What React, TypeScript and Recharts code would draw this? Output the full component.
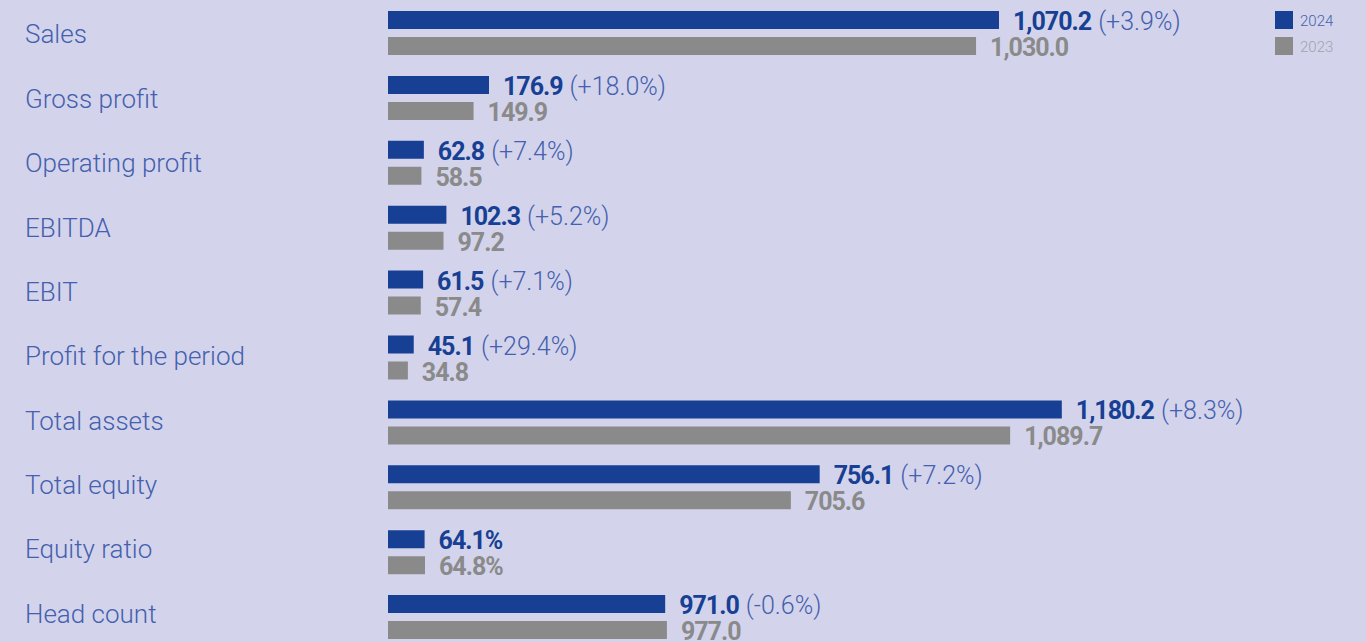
import { Bar, BarChart, LabelList, Legend, XAxis, YAxis } from 'recharts';

const categories = [
  'Sales',
  'Gross profit',
  'Operating profit',
  'EBITDA',
  'EBIT',
  'Profit for the period',
  'Total assets',
  'Total equity',
  'Equity ratio',
  'Head count',
];
const values2024 = [1070.2, 176.9, 62.8, 102.3, 61.5, 45.1, 1180.2, 756.1, 64.1, 971.0];
const values2023 = [1030.0, 149.9, 58.5, 97.2, 57.4, 34.8, 1089.7, 705.6, 64.8, 977.0];
const changes = ['+3.9%', '+18.0%', '+7.4%', '+5.2%', '+7.1%', '+29.4%', '+8.3%', '+7.2%', '', '-0.6%'];
const units = ['', '', '', '', '', '', '', '', '%', ''];
// head count is drawn at half scale in the original
const plotFactor = [1, 1, 1, 1, 1, 1, 1, 1, 1, 0.5];
const years = ['2024', '2023'];

const BLUE = '#173f94';
const BLUE_TEXT = '#4460ae';
const GRAY = '#8a8a8a';
const BG = '#d3d4eb';

const data = categories.map((name, i) => ({
  name,
  i,
  v2024: values2024[i] * plotFactor[i],
  v2023: values2023[i] * plotFactor[i],
}));

const fmt = (v: number) =>
  v.toLocaleString('en-US', { minimumFractionDigits: 1, maximumFractionDigits: 1 });

const VALUE_FONT = 'Roboto, "Liberation Sans", sans-serif';
const TEXT_FONT = 'Roboto, "Liberation Sans", sans-serif';

function CategoryTick({ y, payload, index }: any) {
  // row labels sit on a slightly tighter pitch than the bars
  const shift = 10 - 0.55 * (index ?? 0);
  return (
    <text x={25} y={y + shift} fill={BLUE_TEXT} fontFamily={TEXT_FONT} fontWeight={300} fontSize={26}>
      {payload.value}
    </text>
  );
}

function label2024(props: any) {
  const { x, y, width, height, value } = props;
  const i = value as number;
  return (
    <text x={x + width + 14} y={y + height / 2 + 10} fontSize={25}>
      <tspan fontFamily={VALUE_FONT} fontWeight={700} fill={BLUE} letterSpacing={-1}>
        {fmt(values2024[i]) + units[i]}
      </tspan>
      {changes[i] && (
        <tspan fontFamily={TEXT_FONT} fontWeight={300} fill={BLUE_TEXT} dx={7}>
          ({changes[i]})
        </tspan>
      )}
    </text>
  );
}

function label2023(props: any) {
  const { x, y, width, height, value } = props;
  const i = value as number;
  return (
    <text
      x={x + width + 14}
      y={y + height / 2 + 10}
      fontSize={25}
      fontFamily={VALUE_FONT}
      fontWeight={700}
      letterSpacing={-1}
      fill={GRAY}
    >
      {fmt(values2023[i]) + units[i]}
    </text>
  );
}

function YearLegend() {
  const colors = [BLUE, GRAY];
  const textColors = [BLUE_TEXT, '#a2a2ad'];
  return (
    <div>
      {years.map((y, k) => (
        <div key={y} style={{ display: 'flex', alignItems: 'center', height: 18, marginBottom: 8 }}>
          <span style={{ width: 18, height: 18, background: colors[k], display: 'inline-block' }} />
          <span
            style={{
              marginLeft: 7,
              fontFamily: TEXT_FONT,
              fontWeight: 300,
              fontSize: 15,
              color: textColors[k],
              paddingTop: 2,
            }}
          >
            {y}
          </span>
        </div>
      ))}
    </div>
  );
}

export default function App() {
  return (
    <div
      style={{
        position: 'fixed',
        top: 0,
        left: 0,
        width: 1366,
        height: 642,
        overflow: 'hidden',
        background: BG,
      }}
    >
      <BarChart
        width={1366}
        height={650}
        data={data}
        layout="vertical"
        margin={{ top: 1, right: 0, left: 0, bottom: 0 }}
        barGap={8}
      >
        <XAxis type="number" domain={[0, 1713]} hide />
        <YAxis
          type="category"
          dataKey="name"
          width={388}
          axisLine={false}
          tickLine={false}
          tick={<CategoryTick />}
          interval={0}
        />
        <Legend
          layout="horizontal"
          verticalAlign="middle"
          align="center"
          content={<YearLegend />}
          wrapperStyle={{ top: 11, left: 1275, width: 90 }}
        />
        <Bar dataKey="v2024" fill={BLUE} barSize={18} isAnimationActive={false}>
          <LabelList dataKey="i" content={label2024} />
        </Bar>
        <Bar dataKey="v2023" fill={GRAY} barSize={18} isAnimationActive={false}>
          <LabelList dataKey="i" content={label2023} />
        </Bar>
      </BarChart>
    </div>
  );
}
